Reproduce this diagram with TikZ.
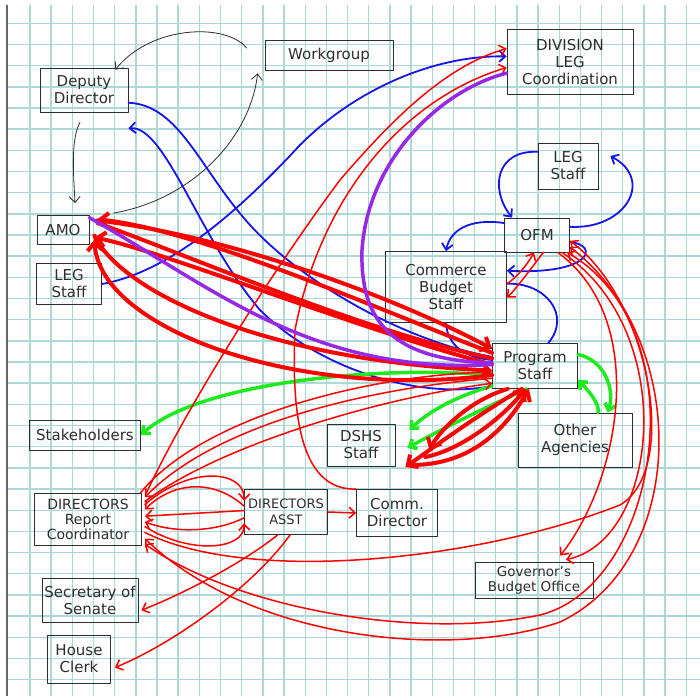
\documentclass[tikz,border=0pt]{standalone}
\usepackage{fontspec}
\setmainfont{DejaVu Sans}
\usepackage{tikz}
\usetikzlibrary{arrows.meta, positioning}
\definecolor{colorGrid}{RGB}{172, 216, 216}
\definecolor{colorInkBlack}{RGB}{45, 45, 45}
\definecolor{colorInkRed}{RGB}{255, 0, 0}
\definecolor{colorInkBlue}{RGB}{20, 20, 235}
\definecolor{colorInkPurple}{RGB}{150, 40, 230}
\definecolor{colorInkGreen}{RGB}{30, 235, 30}
\tikzstyle{box} = [rectangle, draw=colorInkBlack, line width=0.8pt, inner sep=1pt, align=center, text=colorInkBlack]
\tikzstyle{gridline} = [draw=colorGrid, line width=1.4pt, line cap=butt]
\tikzstyle{inkBlack} = [draw=colorInkBlack, line width=0.8pt]
\tikzstyle{inkBlue} = [draw=colorInkBlue, line width=1.8pt]
\tikzstyle{inkPurple} = [draw=colorInkPurple, line width=3.5pt]
\tikzstyle{inkGreen} = [draw=colorInkGreen, line width=3.5pt]
\tikzstyle{inkRed} = [draw=colorInkRed, line width=1.5pt]
\tikzstyle{inkRedThick} = [draw=colorInkRed, line width=4pt]
\tikzstyle{arrow} = [-{Straight Barb[length=6pt, width=11pt]}]
\tikzstyle{arrowBoth} = [{Straight Barb[length=6pt, width=11pt]}-{Straight Barb[length=6pt, width=11pt]}]
\tikzstyle{arrowBig} = [-{Straight Barb[length=8pt, width=15pt]}]

\begin{document}
\begin{tikzpicture}[x=1pt, y=-1pt, font=\fontsize{15}{17}\selectfont, line cap=round, line join=round]

	\useasboundingbox (0,0) rectangle (700,696);

	% grid paper
	\foreach \i in {0,...,31}
	{
		\draw[gridline] ({30+21.17*\i},5) -- ({30+21.17*\i},696);
		\draw[gridline] (7,{23.3+21.17*\i}) -- (700,{23.3+21.17*\i});
	}
	\draw[draw=black!60, line width=1.5pt, line cap=butt] (7,5) -- (7,696);

	% boxes
	\node (deputyDir)[box, minimum width=88pt, minimum height=44pt] at (84,90) {Deputy\\Director};
	\node (workgroup)[box, minimum width=128pt, minimum height=30pt] at (329,55) {Workgroup};
	\node (divLeg)[box, minimum width=126pt, minimum height=65pt] at (570,62) {DIVISION\\LEG\\Coordination};
	\node (legStaffR)[box, minimum width=60pt, minimum height=46pt] at (568,166) {LEG\\Staff};
	\node (ofm)[box, minimum width=65pt, minimum height=34pt] at (537,235) {OFM};
	\node (commBudget)[box, minimum width=121pt, minimum height=71pt] at (446,287) {Commerce\\Budget\\Staff};
	\node (progStaff)[box, minimum width=85pt, minimum height=45pt] at (535,366) {Program\\Staff};
	\node (amo)[box, minimum width=52pt, minimum height=29pt] at (63,230) {AMO};
	\node (legStaffL)[box, minimum width=65pt, minimum height=41pt] at (69,284) {LEG\\Staff};
	\node (stakeholders)[box, minimum width=111pt, minimum height=30pt] at (85,435) {Stakeholders};
	\node (dshsStaff)[box, minimum width=68pt, minimum height=42pt] at (361,445) {DSHS\\Staff};
	\node (otherAg)[box, minimum width=114pt, minimum height=54pt] at (575,440) {Other\\Agencies};
	\node (dirReport)[box, minimum width=107pt, minimum height=52pt, font=\fontsize{14}{15}\selectfont] at (88,519) {DIRECTORS\\Report\\Coordinator};
	\node (dirAsst)[box, minimum width=83pt, minimum height=45pt, font=\fontsize{13}{16}\selectfont] at (286,512) {DIRECTORS\\ASST};
	\node (commDir)[box, minimum width=81pt, minimum height=47pt] at (397,513) {Comm.\\Director};
	\node (govBudget)[box, minimum width=118pt, minimum height=36pt, font=\fontsize{13.5}{15}\selectfont] at (534,580) {Governor's\\Budget Office};
	\node (secSenate)[box, minimum width=96pt, minimum height=44pt] at (90,600) {Secretary of\\Senate};
	\node (houseClerk)[box, minimum width=63pt, minimum height=48pt] at (79,659) {House\\Clerk};

	% black lines
	\draw[inkBlack, arrow] ([xshift=-4pt, yshift=-10pt]deputyDir.south) .. controls (70,140) and (74,180) .. ([xshift=12pt, yshift=12pt]amo.north);
	\draw[inkBlack, arrow] ([xshift=24pt, yshift=2pt]amo.north east) .. controls (190,200) and (250,140) .. ([xshift=-7pt, yshift=-3pt]workgroup.south west);
	\draw[inkBlack, arrow] ([xshift=-18pt, yshift=7pt]workgroup.west) .. controls (225,22) and (150,26) .. ([xshift=-13pt, yshift=-2pt]deputyDir.north east);

	% blue lines
	\draw[inkBlue] (deputyDir.-16) .. controls (180,105) and (200,170) .. (250,225) .. controls (300,280) and (400,340) .. (progStaff.168);
	\draw[inkBlue, arrow] (progStaff.205) .. controls (420,400) and (320,370) .. (260,310) .. controls (200,240) and (165,125) .. ([yshift=-16pt]deputyDir.south east);
	\draw[inkBlue, arrow] (legStaffL.east) .. controls (170,272) and (240,210) .. (300,145) .. controls (360,85) and (440,55) .. (divLeg.175);
	\draw[inkBlue, arrow] (legStaffR.155) .. controls (495,150) and (490,190) .. (ofm.145);
	\draw[inkBlue, arrow] (ofm.14) .. controls (625,230) and (655,180) .. ([xshift=12pt, yshift=10pt]legStaffR.east);
	\draw[inkBlue, arrow] (ofm.160) .. controls (470,218) and (450,230) .. (commBudget.north);
	\draw[inkBlue, arrow] (ofm.-12) .. controls (600,245) and (592,275) .. (commBudget.15);
	\draw[inkBlue] (commBudget.3) .. controls (545,282) and (572,315) .. (progStaff.60);
	\draw[inkBlue] (commBudget.south) .. controls (447,345) and (465,358) .. (progStaff.172);

	% green lines
	\draw[inkGreen, arrow] (progStaff.192) .. controls (380,365) and (200,382) .. (stakeholders.east);
	\draw[inkGreen, arrow] (progStaff.15) .. controls (605,360) and (615,390) .. (otherAg.40);
	\draw[inkGreen, arrow] (otherAg.50) .. controls (600,405) and (590,392) .. (progStaff.-18);
	\draw[inkGreen, arrow] (progStaff.250) .. controls (480,410) and (440,430) .. ([xshift=12pt, yshift=-3pt]dshsStaff.east);
	\draw[inkGreen, arrow] (progStaff.205) .. controls (460,395) and (430,410) .. ([xshift=14pt, yshift=15pt]dshsStaff.east);

	% red lines, Directors Report Coordinator
	\draw[inkRed, arrow] ([xshift=4pt]dirReport.25) .. controls (190,400) and (280,260) .. (340,180) .. controls (400,110) and (450,65) .. (divLeg.168);
	\draw[inkRed, arrow] (commDir.north west) .. controls (310,490) and (290,440) .. (295,330) .. controls (320,200) and (400,100) .. (divLeg.185);
	\draw[inkRed, arrow] ([xshift=3pt]dirReport.15) .. controls (190,465) and (245,470) .. (dirAsst.165);
	\draw[inkRed, arrow] (dirAsst.178) -- ([xshift=3pt]dirReport.3);
	\draw[inkRed, arrow] ([xshift=3pt]dirReport.-8) .. controls (190,555) and (245,550) .. (dirAsst.-165);
	\draw[inkRed, arrow] (dirAsst.-172) .. controls (220,530) and (180,535) .. ([xshift=3pt]dirReport.-3);
	\draw[inkRed, arrow] (dirAsst.172) .. controls (215,480) and (175,480) .. ([xshift=3pt]dirReport.10);
	\draw[inkRed, arrow] ([xshift=3pt]dirReport.28) .. controls (200,420) and (360,375) .. (progStaff.188);
	\draw[inkRed, arrow] (progStaff.196) .. controls (350,390) and (210,430) .. ([xshift=3pt]dirReport.22);
	\draw[inkRed, arrow] ([xshift=3pt]dirReport.18) .. controls (220,445) and (380,398) .. (progStaff.202);

	% red lines, Directors Asst
	\draw[inkRed, arrow] (dirAsst.east) -- (commDir.west);
	\draw[inkRed, arrow] (dirAsst.-110) .. controls (240,565) and (180,595) .. ([xshift=3pt]secSenate.-12);
	\draw[inkRed, arrow] (dirAsst.-80) .. controls (250,590) and (170,645) .. ([xshift=4pt]houseClerk.-15);

	% red lines, OFM
	\draw[inkRed, arrowBoth] (ofm.-20) .. controls (690,340) and (690,560) .. (560,622) .. controls (450,660) and (250,640) .. ([xshift=3pt]dirReport.-20);
	\draw[inkRed, arrowBoth] ([xshift=3pt]dirReport.-25) .. controls (240,610) and (420,640) .. (540,615) .. controls (660,585) and (700,330) .. (ofm.-30);
	\draw[inkRed, arrow] ([xshift=3pt]dirReport.-14) .. controls (250,585) and (480,560) .. (620,505) .. controls (680,470) and (650,300) .. (ofm.-10);
	\draw[inkRed, arrow] (ofm.-40) .. controls (650,320) and (620,480) .. ([yshift=6pt]govBudget.35);
	\draw[inkRed, arrow] (ofm.-35) .. controls (680,330) and (660,540) .. ([yshift=2pt]govBudget.30);
	\draw[inkRed, arrow] (ofm.-70) .. controls (530,270) and (515,290) .. (commBudget.-10);
	\draw[inkRed, arrow] (commBudget.3) .. controls (520,275) and (530,260) .. (ofm.-100);

	% thick red, AMO and Program Staff
	\draw[inkRedThick, arrowBig] (progStaff.163) .. controls (380,310) and (200,230) .. ([xshift=8pt]amo.22);
	\draw[inkRedThick, arrowBig] ([xshift=8pt]amo.20) .. controls (220,235) and (380,290) .. (progStaff.158);
	\draw[inkRedThick, arrowBig] (progStaff.178) .. controls (360,330) and (160,250) .. ([xshift=5pt]amo.-16);
	\draw[inkRedThick, arrowBig] ([xshift=5pt]amo.-12) .. controls (120,290) and (260,360) .. (progStaff.186);
	\draw[inkRedThick, arrowBig] (progStaff.192) .. controls (300,400) and (100,330) .. ([xshift=5pt]amo.-20);
	\draw[inkRedThick] ([xshift=8pt]amo.15) .. controls (200,260) and (360,330) .. (progStaff.170);

	% thick red, Program Staff and DSHS
	\draw[inkRedThick, arrowBig] (progStaff.240) .. controls (470,420) and (430,450) .. ([xshift=10pt, yshift=-22pt]dshsStaff.east);
	\draw[inkRedThick, arrowBig] ([xshift=16pt, yshift=-20pt]dshsStaff.east) .. controls (470,465) and (505,430) .. (progStaff.-105);
	\draw[inkRedThick, arrowBig] (progStaff.220) .. controls (470,400) and (440,430) .. ([xshift=34pt, yshift=-5pt]dshsStaff.east);
	\draw[inkRedThick, arrowBig] ([xshift=30pt, yshift=-12pt]dshsStaff.east) .. controls (460,450) and (500,420) .. (progStaff.-112);

	% purple lines
	\draw[inkPurple] (amo.25) .. controls (210,285) and (310,375) .. (progStaff.178);
	\draw[inkPurple] (progStaff.176) .. controls (390,360) and (360,320) .. (362,250) .. controls (368,160) and (440,90) .. (divLeg.190);

\end{tikzpicture}
\end{document}
